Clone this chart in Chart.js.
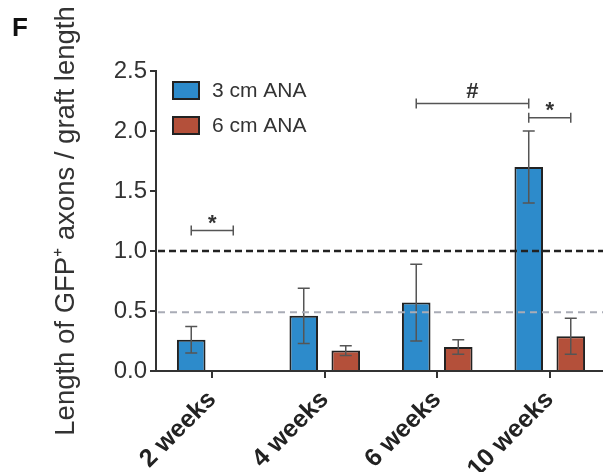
<!DOCTYPE html>
<html>
<head>
<meta charset="utf-8">
<script src="https://cdn.jsdelivr.net/npm/chart.js@4/dist/chart.umd.min.js"></script>
<style>
  body { margin: 0; background: #fff; overflow: hidden; }
  #wrap { position: relative; width: 603px; height: 472px; overflow: hidden; }
  #box { position: absolute; left: 0; top: 0; width: 606px; height: 472px; }
  #panel { position: absolute; left: 12px; top: 14px; font: bold 26px "Liberation Sans", Arial, sans-serif; line-height: 26px; color: #111; }
</style>
</head>
<body>
<div id="wrap">
  <div id="box"><canvas id="chart"></canvas></div>
  <div id="panel">F</div>
</div>
<script>
// data
const categories = ['2 weeks', '4 weeks', '6 weeks', '10 weeks'];
const ana3 = [0.26, 0.46, 0.57, 1.70];
const ana3Err = [0.11, 0.23, 0.32, 0.30];
const ana6 = [null, 0.17, 0.20, 0.29];
const ana6Err = [null, 0.04, 0.06, 0.15];
const yTicks = [0, 0.5, 1.0, 1.5, 2.0, 2.5];
const refBlack = 1.0;
const refGrey = 0.49;
// significance brackets: [dataset, index] -> [dataset, index] at height y
const sigFrom = [[0, 0], [0, 2], [0, 3]];
const sigTo = [[1, 0], [0, 3], [1, 3]];
const sigY = [1.17, 2.23, 2.11];
const sigText = ['*', '#', '*'];

const FONT = '"Liberation Sans", Arial, sans-serif';
Chart.defaults.font.family = FONT;

const extras = {
  id: 'extras',
  afterDatasetsDraw(chart) {
    const ctx = chart.ctx;
    const y = chart.scales.y;
    const area = chart.chartArea;
    const errs = [ana3Err, ana6Err];
    const vals = [ana3, ana6];

    // error bars
    ctx.save();
    ctx.strokeStyle = '#555';
    ctx.lineWidth = 1.5;
    [0, 1].forEach(d => {
      chart.getDatasetMeta(d).data.forEach((bar, i) => {
        if (vals[d][i] == null) return;
        const hi = y.getPixelForValue(vals[d][i] + errs[d][i]);
        const lo = y.getPixelForValue(vals[d][i] - errs[d][i]);
        ctx.beginPath();
        ctx.moveTo(bar.x, hi); ctx.lineTo(bar.x, lo);
        ctx.moveTo(bar.x - 6, hi); ctx.lineTo(bar.x + 6, hi);
        ctx.moveTo(bar.x - 6, lo); ctx.lineTo(bar.x + 6, lo);
        ctx.stroke();
      });
    });
    ctx.restore();

    // reference lines
    ctx.save();
    ctx.setLineDash([7, 4]);
    ctx.strokeStyle = '#222';
    ctx.lineWidth = 2.5;
    let py = y.getPixelForValue(refBlack);
    ctx.beginPath(); ctx.moveTo(area.left + 2, py); ctx.lineTo(area.right, py); ctx.stroke();
    ctx.setLineDash([7, 5]);
    ctx.strokeStyle = '#a9acb6';
    ctx.lineWidth = 2;
    py = y.getPixelForValue(refGrey);
    ctx.beginPath(); ctx.moveTo(area.left + 2, py); ctx.lineTo(area.right, py); ctx.stroke();
    ctx.restore();

    // significance brackets
    ctx.save();
    ctx.strokeStyle = '#555';
    ctx.fillStyle = '#333';
    ctx.lineWidth = 1.5;
    ctx.textAlign = 'center';
    ctx.textBaseline = 'alphabetic';
    ctx.font = 'bold 22px ' + FONT;
    sigY.forEach((v, k) => {
      const x1 = chart.getDatasetMeta(sigFrom[k][0]).data[sigFrom[k][1]].x;
      const x2 = chart.getDatasetMeta(sigTo[k][0]).data[sigTo[k][1]].x;
      const by = y.getPixelForValue(v);
      ctx.beginPath();
      ctx.moveTo(x1, by); ctx.lineTo(x2, by);
      ctx.moveTo(x1, by - 5); ctx.lineTo(x1, by + 5);
      ctx.moveTo(x2, by - 5); ctx.lineTo(x2, by + 5);
      ctx.stroke();
      ctx.fillText(sigText[k], (x1 + x2) / 2, sigText[k] === '#' ? by - 5 : by - 1);
    });
    ctx.restore();

    // legend
    ctx.save();
    ctx.font = '21px ' + FONT;
    ctx.textBaseline = 'middle';
    ctx.textAlign = 'left';
    chart.data.datasets.forEach((ds, i) => {
      const bx = area.left + 17, by = area.top + 11 + i * 35;
      ctx.fillStyle = ds.backgroundColor;
      ctx.fillRect(bx, by, 26, 17);
      ctx.strokeStyle = '#222';
      ctx.lineWidth = 2;
      ctx.strokeRect(bx, by, 26, 17);
      ctx.fillStyle = '#333';
      ctx.fillText(ds.label, bx + 39, by + 9);
    });
    ctx.restore();
  }
};

new Chart(document.getElementById('chart'), {
  type: 'bar',
  data: {
    labels: categories,
    datasets: [
      { label: '3 cm ANA', data: ana3, backgroundColor: '#2d8bcb', borderColor: '#222', borderWidth: 2 },
      { label: '6 cm ANA', data: ana6, backgroundColor: '#b4503a', borderColor: '#222', borderWidth: 2 }
    ]
  },
  options: {
    responsive: true,
    maintainAspectRatio: false,
    animation: false,
    barPercentage: 0.68,
    categoryPercentage: 0.747,
    layout: { padding: { top: 71, right: 0, bottom: 0, left: 0 } },
    plugins: { legend: { display: false }, tooltip: { enabled: false } },
    scales: {
      x: {
        offset: true,
        grid: { drawOnChartArea: false, offset: false, color: '#333', lineWidth: 2, tickLength: 7 },
        border: { color: '#333', width: 2 },
        ticks: { color: '#222', font: { size: 25, weight: 'bold' }, minRotation: 45, maxRotation: 45, padding: 7 },
        afterFit(s) { s.height = 101; }
      },
      y: {
        min: 0,
        max: 2.5,
        afterBuildTicks(s) { s.ticks = yTicks.map(v => ({ value: v })); },
        ticks: { color: '#333', font: { size: 24 }, padding: 3, callback: v => v.toFixed(1) },
        grid: { drawOnChartArea: false, color: '#333', lineWidth: 2, tickLength: 6 },
        border: { color: '#333', width: 2 },
        title: { display: true, text: 'Length of GFP⁺ axons / graft length', color: '#333', font: { size: 27.5 }, padding: { top: 50, bottom: 0 } },
        afterFit(s) { s.width = 156; }
      }
    }
  },
  plugins: [extras]
});
</script>
</body>
</html>
